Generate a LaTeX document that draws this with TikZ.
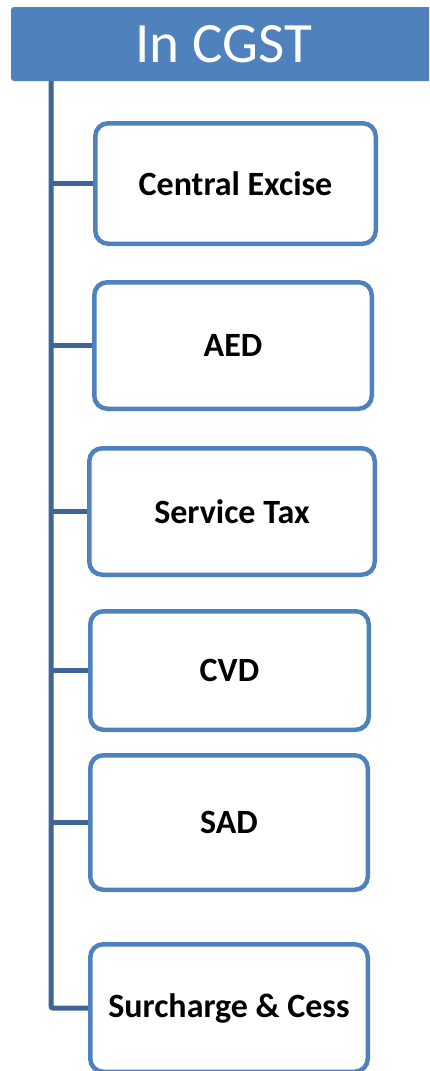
\documentclass[tikz,border=0pt]{standalone}
\usepackage{fontspec}
\setmainfont{Carlito}
\definecolor{accent}{HTML}{4F81BD}
\definecolor{trunkblue}{HTML}{3F6598}
\tikzset{
  header/.style={rectangle, fill=accent, rounded corners=3pt, inner sep=0pt,
    text=white, font=\fontsize{57}{68}\selectfont},
  itembox/.style={rectangle, draw=accent, line width=4.5pt, fill=white,
    rounded corners=13pt, inner sep=0pt,
    font=\fontsize{34}{40}\selectfont\bfseries},
  link/.style={draw=trunkblue, line width=5pt, rounded corners=2pt}
}
\begin{document}
\begin{tikzpicture}[x=1pt, y=-1pt]
\useasboundingbox (0,0) rectangle (429,1071);
\clip (0,0) rectangle (429,1071);

% title bar
\node[header, minimum width=425pt, minimum height=74pt] (head) at (223.5,44) {In CGST};

% the six items
\node[itembox, minimum width=280.5pt, minimum height=120.5pt] (b1) at (235.5,183.5) {Central Excise};
\node[itembox, minimum width=277.5pt, minimum height=126.5pt] (b2) at (233,345.5) {AED};
\node[itembox, minimum width=285.5pt, minimum height=126.5pt] (b3) at (232,511.5) {Service Tax};
\node[itembox, minimum width=278.5pt, minimum height=118.5pt] (b4) at (229.5,670.5) {CVD};
\node[itembox, minimum width=277.5pt, minimum height=134.5pt] (b5) at (229,822.5) {SAD};
\node[itembox, minimum width=277.5pt, minimum height=127.5pt] (b6) at (229,1008) {Surcharge \& Cess};

% trunk line with its branches
\coordinate (trunktop) at (51,81);
\draw[link] (trunktop) |- (b6.west);
\foreach \b in {b1,b2,b3,b4,b5}
  \draw[link, rounded corners=0pt] (trunktop |- \b.west) -- (\b.west);
\end{tikzpicture}
\end{document}
